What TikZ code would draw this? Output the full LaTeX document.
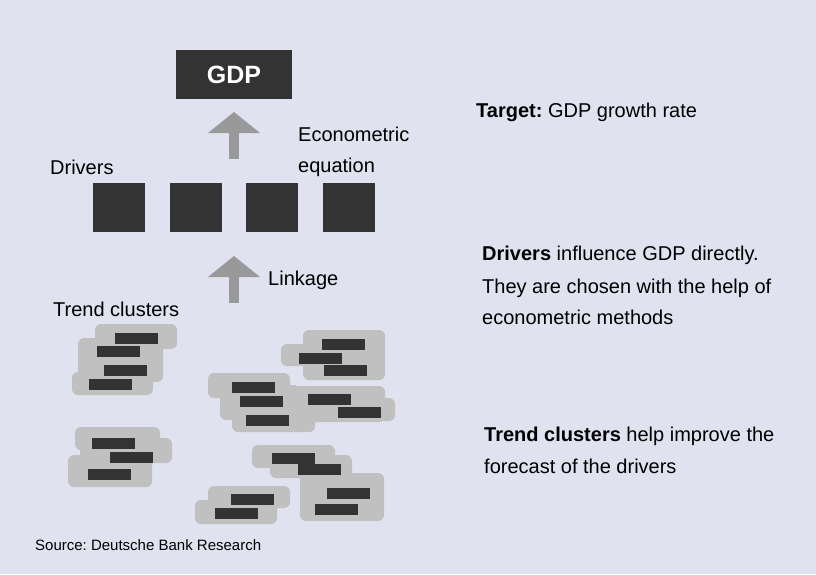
\documentclass[tikz,border=0pt]{standalone}
\usepackage{fontspec}
\setmainfont{Liberation Sans}
\frenchspacing
\usetikzlibrary{arrows.meta}
\definecolor{bgc}{HTML}{E0E2EF}
\definecolor{blobc}{HTML}{C0C0C0}
\definecolor{darkc}{HTML}{333333}
\definecolor{arrc}{HTML}{999999}
\tikzset{
  lbl/.style={inner sep=0pt, anchor=base west, font=\fontsize{20}{24}\selectfont, text=black},
  drvbox/.style={draw=none, fill=darkc, minimum width=52pt, minimum height=49pt, inner sep=0pt},
  barbox/.style={draw=none, fill=darkc, minimum width=43pt, minimum height=11pt, inner sep=0pt, anchor=north west},
  blob/.style={fill=blobc, draw=none, rounded corners=6pt},
  bigarrow/.style={draw=arrc, line width=10pt, -{Triangle[width=52pt,length=21pt,line width=0pt]}}
}
\begin{document}
\begin{tikzpicture}[x=1pt,y=-1pt]
\useasboundingbox (0,0) rectangle (816,574);
\fill[bgc] (0,0) rectangle (816,574);

% GDP
\node[fill=darkc, minimum width=116pt, minimum height=49pt, inner sep=0pt,
      text=white, font=\fontsize{25}{30}\selectfont\bfseries] (gdp) at (234,74.5) {GDP};

% drivers
\node[drvbox] (d1) at (119,207.5) {};
\node[drvbox] (d2) at (196,207.5) {};
\node[drvbox] (d3) at (272,207.5) {};
\node[drvbox] (d4) at (349,207.5) {};

% labels
\node[lbl] (tdrivers) at (50,174) {Drivers};
\node[lbl] (econ1) at (298,141) {Econometric};
\node[lbl] (econ2) at (298,172) {equation};
\node[lbl] (link) at (268,285) {Linkage};
\node[lbl] (ttrend) at (53,316) {Trend clusters};

% right texts
\node[lbl] (r1) at (476,117) {\textbf{Target:} GDP growth rate};
\node[lbl] (r2) at (482,260) {\textbf{Drivers} influence GDP directly.};
\node[lbl] (r3) at (482,293) {They are chosen with the help of};
\node[lbl] (r4) at (482,324) {econometric methods};
\node[lbl] (r5) at (484,441) {\textbf{Trend clusters} help improve the};
\node[lbl] (r6) at (484,473) {forecast of the drivers};
\node[lbl, font=\fontsize{15}{18}\selectfont] (src) at (35,550) {Source: Deutsche Bank Research};

% arrows
\coordinate (a1s) at (234,183);
\coordinate (a1e) at (234,99);
\draw[bigarrow, shorten <=24pt, shorten >=13pt] (a1s) -- (a1e);
\coordinate (a2s) at (234,303);
\coordinate (a2e) at (234,232);
\draw[bigarrow, shorten >=24pt] (a2s) -- (a2e);

% cluster A
\fill[blob] (95,324) rectangle (177,349) (78,338) rectangle (163,382) (72,372) rectangle (153,395);
\node[barbox] (a1) at (115,333) {};
\node[barbox] (a2) at (97,346) {};
\node[barbox] (a3) at (104,365) {};
\node[barbox] (a4) at (89,379) {};

% cluster B
\fill[blob] (303,330) rectangle (385,380) (281,344) rectangle (320,366);
\node[barbox] (b1) at (322,339) {};
\node[barbox] (b2) at (299,353) {};
\node[barbox] (b3) at (324,365) {};

% cluster C
\fill[blob] (208,373) rectangle (290,398) (220,385) rectangle (300,420)
  (232,400) rectangle (315,432) (285,386) rectangle (385,422) (340,398) rectangle (395,421);
\node[barbox] (c1) at (232,382) {};
\node[barbox] (c2) at (240,396) {};
\node[barbox] (c3) at (246,415) {};
\node[barbox] (c4) at (308,394) {};
\node[barbox] (c5) at (338,407) {};

% cluster D
\fill[blob] (75,427) rectangle (160,450) (80,438) rectangle (172,463) (68,455) rectangle (152,487);
\node[barbox] (dd1) at (92,438) {};
\node[barbox] (dd2) at (110,452) {};
\node[barbox] (dd3) at (88,469) {};

% cluster E
\fill[blob] (252,445) rectangle (335,468) (270,455) rectangle (352,478) (300,473) rectangle (384,521);
\node[barbox] (e1) at (272,453) {};
\node[barbox] (e2) at (298,464) {};
\node[barbox] (e3) at (327,488) {};
\node[barbox] (e4) at (315,504) {};

% cluster F
\fill[blob] (208,486) rectangle (290,508) (195,500) rectangle (277,524);
\node[barbox] (f1) at (231,494) {};
\node[barbox] (f2) at (215,508) {};
\end{tikzpicture}
\end{document}
